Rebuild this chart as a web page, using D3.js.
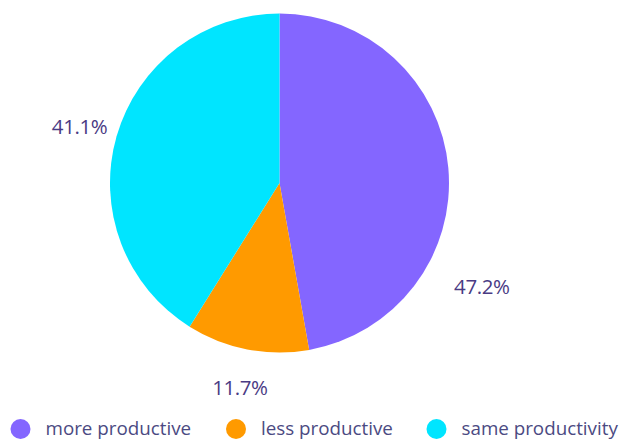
<!DOCTYPE html>
<html>
<head>
<meta charset="utf-8">
<script src="https://cdn.jsdelivr.net/npm/d3@7/dist/d3.min.js"></script>
<style>
  html, body { margin: 0; padding: 0; background: #fff; }
  svg { display: block; font-family: "Open Sans", Lato, sans-serif; }
</style>
</head>
<body>
<svg id="chart" width="621" height="439"></svg>
<script>
// Survey answers: change in productivity
const categories = ["more productive", "less productive", "same productivity"];
const shares = [47.2, 11.7, 41.1];
const percentLabels = ["47.2%", "11.7%", "41.1%"];
const colors = ["#8466FF", "#FF9A00", "#00E5FF"];

const svg = d3.select("#chart");
const cx = 279.5, cy = 183, radius = 169.5;

const data = categories.map((c, i) => ({ name: c, value: shares[i], label: percentLabels[i] }));

const pie = d3.pie().value(d => d.value).sort(null);
const arcs = pie(data);
const arc = d3.arc().innerRadius(0).outerRadius(radius);

const color = d3.scaleOrdinal().domain(categories).range(colors);

const g = svg.append("g").attr("transform", `translate(${cx},${cy})`);

g.selectAll("path.slice")
  .data(arcs)
  .join("path")
  .attr("class", "slice")
  .attr("d", arc)
  .attr("fill", d => color(d.data.name));

// Percentage labels sit outside the pie; the large first slice's label is
// pushed further round so it clears the right edge.
const labelRadius = 208;
const labelShift = { "more productive": { angle: 32, r: 227 } };
g.selectAll("text.pct")
  .data(arcs)
  .join("text")
  .attr("class", "pct")
  .attr("transform", d => {
    const s = labelShift[d.data.name];
    const a = (d.startAngle + d.endAngle) / 2 + (s ? s.angle * Math.PI / 180 : 0);
    const r = s ? s.r : labelRadius;
    return `translate(${r * Math.sin(a)},${-r * Math.cos(a)})`;
  })
  .attr("text-anchor", "middle")
  .attr("dominant-baseline", "central")
  .attr("fill", "#4A3B84")
  .attr("font-size", 20.5)
  .attr("font-weight", 500)
  .attr("letter-spacing", -0.4)
  .text(d => d.data.label);

// Legend along the bottom
const legendX = d3.scaleOrdinal().domain(categories).range([20.5, 236, 436.5]);
const legend = svg.append("g").attr("transform", "translate(0,429)");
const item = legend.selectAll("g.item")
  .data(categories)
  .join("g")
  .attr("class", "item")
  .attr("transform", d => `translate(${legendX(d)},0)`);
item.append("circle")
  .attr("r", 10)
  .attr("fill", d => color(d));
item.append("text")
  .attr("x", 25)
  .attr("y", 5.5)
  .attr("fill", "#4B4A82")
  .attr("font-size", 18.8)
  .text(d => d);
</script>
</body>
</html>
